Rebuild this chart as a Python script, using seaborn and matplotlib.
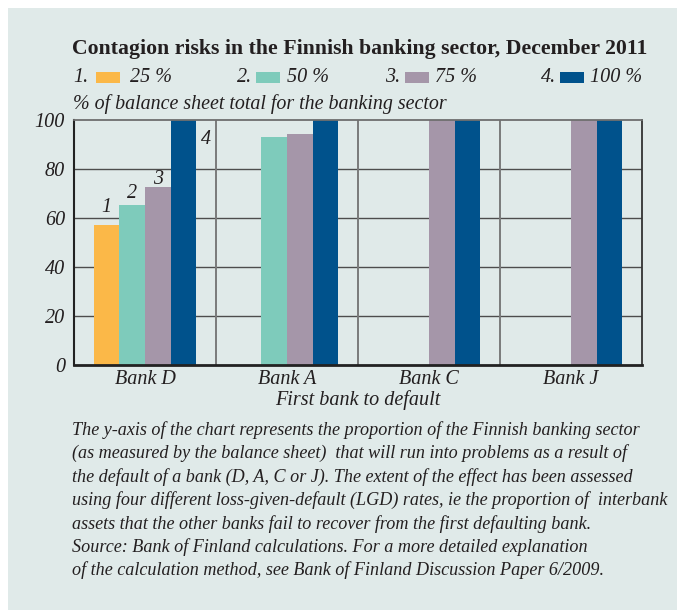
import matplotlib
matplotlib.use("Agg")
import matplotlib.pyplot as plt
import seaborn as sns
import pandas as pd
import numpy as np
from matplotlib.patches import Rectangle

# ---------------- data ----------------
banks = ["Bank D", "Bank A", "Bank C", "Bank J"]
lgd_labels = ["25 %", "50 %", "75 %", "100 %"]
lgd_numbers = ["1.", "2.", "3.", "4."]
vals_25 = [57.1, np.nan, np.nan, np.nan]
vals_50 = [65.4, 93.2, np.nan, np.nan]
vals_75 = [72.6, 94.3, 100.0, 100.0]
vals_100 = [100.0, 100.0, 100.0, 100.0]
y_ticks = [0, 20, 40, 60, 80, 100]
bar_marks = ["1", "2", "3", "4"]

title = "Contagion risks in the Finnish banking sector, December 2011"
ylabel = "% of balance sheet total for the banking sector"
xlabel = "First bank to default"
caption = [
    "The y-axis of the chart represents the proportion of the Finnish banking sector",
    "(as measured by the balance sheet)  that will run into problems as a result of",
    "the default of a bank (D, A, C or J). The extent of the effect has been assessed",
    "using four different loss-given-default (LGD) rates, ie the proportion of  interbank",
    "assets that the other banks fail to recover from the first defaulting bank.",
    "Source: Bank of Finland calculations. For a more detailed explanation",
    "of the calculation method, see Bank of Finland Discussion Paper 6/2009.",
]

colors = ["#FBB848", "#7ECBBB", "#A596A9", "#00528C"]
bg = "#E0EAE9"
txt = "#231F20"

df = pd.DataFrame({
    "bank": banks * 4,
    "lgd": sum([[l] * 4 for l in lgd_labels], []),
    "value": vals_25 + vals_50 + vals_75 + vals_100,
})

# ---------------- figure ----------------
W, H = 677, 610
fig = plt.figure(figsize=(W / 100, H / 100), dpi=100, facecolor="white")
fx = lambda px: px / W
fy = lambda py: 1 - py / H

fig.patches.append(Rectangle((fx(8), 0), 1 - fx(8), fy(8), transform=fig.transFigure,
                             facecolor=bg, edgecolor="none", zorder=-10))

ax = fig.add_axes([fx(74), fy(365), fx(642) - fx(74), fy(120) - fy(365)])
ax.set_facecolor(bg)

sns.barplot(data=df, x="bank", y="value", hue="lgd", order=banks, hue_order=lgd_labels,
            palette=colors, saturation=1, width=0.725, dodge=True, gap=0,
            edgecolor="none", linewidth=0, legend=False, ax=ax, zorder=3)

ax.set_ylim(0, 100)
ax.set_xlim(-0.5, 3.5)
ax.set_yticks(y_ticks)
ax.set_xlabel("")
ax.set_ylabel("")
for v in y_ticks[1:-1]:
    ax.axhline(v, color="#4d4d4d", lw=1.0, zorder=1)
for xv in [0.5, 1.5, 2.5]:
    ax.axvline(xv, color="#7a7a7a", lw=1.4, zorder=1)

ax.spines["left"].set_color("#222222"); ax.spines["left"].set_linewidth(1.5)
ax.spines["bottom"].set_color("#222222"); ax.spines["bottom"].set_linewidth(2.0)
ax.spines["top"].set_color("#6f6f6f"); ax.spines["top"].set_linewidth(1.3)
ax.spines["right"].set_color("#333333"); ax.spines["right"].set_linewidth(1.3)
for s in ax.spines.values():
    s.set_zorder(5)

ital = dict(family="Liberation Serif", style="italic", color=txt)
fs = 14.5
ax.tick_params(axis="both", length=0, labelsize=fs, colors=txt)
ax.tick_params(axis="y", pad=6.5)
ax.tick_params(axis="x", pad=3.5)
for lab in ax.get_xticklabels() + ax.get_yticklabels():
    lab.set_fontfamily("Liberation Serif")
    lab.set_fontstyle("italic")

# bar annotations for Bank D
bar_pos = [(106, 207), (132, 194), (158, 180), (206, 140)]
for m, (px, py) in zip(bar_marks, bar_pos):
    fig.text(fx(px), fy(py), m, ha="center", va="center", fontsize=fs, **ital)

renderer = fig.canvas.get_renderer()

def fit(t, target_px):
    w = t.get_window_extent(renderer=renderer).width
    t.set_fontsize(t.get_fontsize() * target_px / w)
    return t.get_fontsize()

# title
t = fig.text(fx(72), fy(49), title, ha="left", va="center", fontsize=15,
             family="Liberation Serif", weight="bold", color=txt)
fit(t, 573)

# legend row
leg_num_x = [73, 237, 385, 541]
leg_box_x = [96, 256, 405, 560]
leg_lab_x = [130, 287, 435, 590]
for n, l, c, xn, xb, xl in zip(lgd_numbers, lgd_labels, colors, leg_num_x, leg_box_x, leg_lab_x):
    fig.text(fx(xn), fy(78), n, ha="left", va="center", fontsize=fs, **ital)
    fig.patches.append(Rectangle((fx(xb), fy(83)), fx(24), fy(72) - fy(83),
                                 transform=fig.transFigure, facecolor=c, edgecolor="none"))
    fig.text(fx(xl), fy(78), l, ha="left", va="center", fontsize=fs, **ital)

# y label
t = fig.text(fx(73), fy(104), ylabel, ha="left", va="center", fontsize=fs, **ital)
fit(t, 375)

# x label
t = fig.text(fx(358), fy(400), xlabel, ha="center", va="center", fontsize=fs, **ital)
fit(t, 165)

# caption
texts = []
for i, line in enumerate(caption):
    texts.append(fig.text(fx(72), fy(430 + i * 23.4), line, ha="left", va="center",
                          fontsize=15, **ital))
s1 = fit(texts[0], 592)
texts[0].set_fontsize(15)
s4 = fit(texts[3], 600)
cfs = min(s1, s4)
for t in texts:
    t.set_fontsize(cfs)

fig.savefig("out.png", dpi=100, facecolor="white")
